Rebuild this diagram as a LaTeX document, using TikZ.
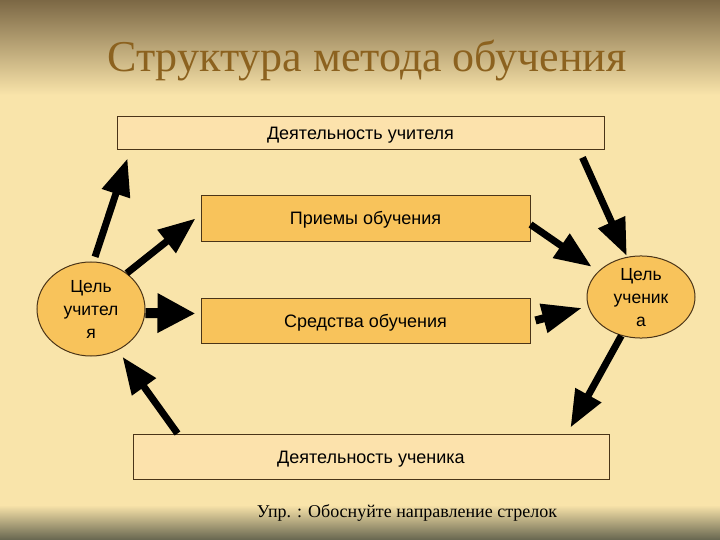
\documentclass[tikz,border=0pt]{standalone}
\usepackage{fontspec}
\setmainfont{Liberation Serif}
\setsansfont{Liberation Sans}
\usetikzlibrary{shapes.geometric,arrows.meta}

\definecolor{paper}{HTML}{F9E4AA}
\definecolor{topband}{HTML}{7C6845}
\definecolor{footband}{HTML}{66654F}
\definecolor{palefill}{HTML}{FCE2AC}
\definecolor{orangefill}{HTML}{F8C35B}
\definecolor{boxline}{HTML}{4A3418}
\definecolor{titlebrown}{HTML}{8C621F}

\begin{document}
\begin{tikzpicture}[x=1pt,y=-1pt,
			base/.style={draw=boxline, line width=1pt, inner sep=0pt, text height=13pt, text depth=0pt, font=\sffamily\fontsize{18}{21}\selectfont},
			pale/.style={base, fill=palefill},
			orange/.style={base, fill=orangefill, minimum width=329pt, minimum height=45pt},
			goal/.style={base, ellipse, fill=orangefill, align=center, text height=, text depth=0pt, font=\sffamily\fontsize{17.5}{23}\selectfont},
			bigarrow/.style={line width=7pt, -{Triangle[length=37pt,width=28pt]}},
			fatarrow/.style={line width=10pt, -{Triangle[length=38pt,width=37pt]}},
			stubarrow/.style={line width=8pt, -{Triangle[length=40pt,width=28pt]}},
		]

		% background
		\fill[paper] (0,0) rectangle (720,540);
		\shade[top color=topband, bottom color=paper] (0,0) rectangle (720,95);
		\shade[top color=paper, bottom color=footband] (0,505) rectangle (720,540);

		\node[font=\fontsize{44}{50}\selectfont, text=titlebrown] (title) at (367,61) {Структура метода обучения};

		\node[pale, minimum width=487pt, minimum height=33pt] (du) at (360.5,133.5) {Деятельность учителя};
		\node[orange] (pr) at (365.5,218.5) {Приемы обучения};
		\node[orange] (sr) at (365.5,320.5) {Средства обучения};
		\node[pale, minimum width=476pt, minimum height=45pt] (dc) at (371,456.5) {Деятельность ученика};

		\node[goal, minimum width=108pt, minimum height=94pt] (ut) at (91,309) {Цель\\учител\\я};
		\node[goal, minimum width=108pt, minimum height=80pt] (uc) at (641,297) {Цель\\ученик\\а};

		\draw[bigarrow, shorten <=5pt] (ut.87) -- ([xshift=11pt,yshift=-8pt]du.south west);
		\draw[bigarrow] (ut.45) -- ([xshift=-5pt]pr.west);
		\draw[fatarrow] ([yshift=-4pt]ut.east) -- ([xshift=-5pt,yshift=7pt]sr.west);
		\draw[bigarrow, shorten >=8pt] ([xshift=45pt]dc.north west) -- (ut.-57);

		\draw[bigarrow, shorten >=1pt] ([xshift=-22pt,yshift=-7pt]du.south east) -- (uc.109);
		\draw[bigarrow, shorten >=8pt] ([yshift=-6pt]pr.east) -- (uc.149);
		\draw[stubarrow, shorten >=6pt] ([xshift=5pt]sr.east) -- (uc.190);
		\draw[bigarrow] (uc.-117) -- ([xshift=-39pt,yshift=6pt]dc.north east);

		\node[font=\fontsize{18}{22}\selectfont] (note) at (407,513) {Упр. : Обоснуйте направление стрелок};

\end{tikzpicture}
\end{document}
